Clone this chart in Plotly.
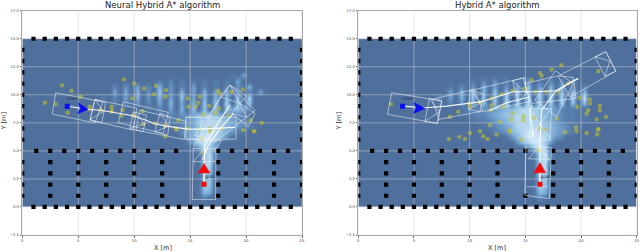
import plotly.graph_objects as go

titles = ["Neural Hybrid A* algorithm", "Hybrid A* algorithm"]
x_ticks = [0, 5, 10, 15, 20, 25]
y_ticks = [-2.5, 0, 2.5, 5, 7.5, 10, 12.5, 15, 17.5]
y_tick_labels = ["−2.5", "0.0", "2.5", "5.0", "7.5", "10.0", "12.5", "15.0", "17.5"]

# obstacle map
wall_top_x = list(range(1, 25))
wall_side_y = [1, 2, 3, 4, 6, 7, 8, 9, 10, 11, 12, 13, 14]
row5_x = [1.25, 2.5, 3.75, 5, 6.25, 7.5, 8.75, 10, 11.25, 12.5, 13.75, 17.5, 18.75, 20, 21.25, 22.5, 23.75]
block_x = [2.5, 5, 7.5, 10, 12.5, 17.5, 20, 22.5]
block_y = [1, 2, 3, 4]
extra_right_x = [15, 15]
extra_right_y = [5, 1]

# likelihood map: (row y, first column index, digits per 0.5 m column)
heat_left = [
    (11.75, 37, "205"),
    (11.25, 24, "203020202020205"),
    (10.75, 16, "30405030604030503020304060"),
    (10.25, 16, "505060407040605060506040305"),
    (9.75, 14, "2030506040605070506060607080"),
    (9.25, 16, "20304030506050607070807070"),
    (8.75, 22, "2030506070707075752"),
    (8.25, 24, "21324356776543321"),
    (7.75, 26, "223457788765432"),
    (7.25, 26, "1234578887654321"),
    (6.75, 27, "1346789875421"),
    (6.25, 28, "2468998641"),
    (5.75, 29, "258985"),
    (5.25, 30, "14875"),
    (4.75, 31, "1782"),
    (4.25, 31, "0781"),
    (3.75, 31, "088"),
    (3.25, 31, "077"),
    (2.75, 31, "066"),
    (2.25, 31, "067"),
    (1.75, 31, "1761"),
    (1.25, 31, "165"),
    (0.75, 31, "02"),
]
heat_right = [
    (11.25, 20, "20304030204020303030"),
    (10.75, 16, "20304060504050705060603030"),
    (10.25, 16, "50607060707080707070707060"),
    (9.75, 14, "3050607060708070808080808090"),
    (9.25, 14, "203040607070808090808080707"),
    (8.75, 18, "12233445667887765432211"),
    (8.25, 18, "12233456778888765432211"),
    (7.75, 20, "1223456788887654322111"),
    (7.25, 22, "123456888887654321"),
    (6.75, 24, "234678998765432"),
    (6.25, 26, "14689998643"),
    (5.75, 28, "4689974"),
    (5.25, 30, "2698"),
    (4.75, 31, "2893"),
    (4.25, 31, "1792"),
    (3.75, 31, "088"),
    (3.25, 31, "088"),
    (2.75, 31, "077"),
    (2.25, 31, "067"),
    (1.75, 31, "1761"),
    (1.25, 31, "165"),
    (0.75, 31, "02"),
]

# expanded nodes
yellow_left_x = [2.03, 3.0, 3.55, 4.41, 5.22, 4.06, 9.09, 10.0, 9.84, 10.88, 11.95, 11.77, 12.85, 12.79, 14.78, 15.88, 16.69, 14.84, 17.52, 19.7, 7.99, 7.99, 8.97, 8.88, 10.76, 6.05, 15.73, 15.52, 17.67, 18.71, 17.58, 16.18, 18.41, 20.41, 21.39, 20.74, 19.75, 14.75, 15.79, 16.78, 17.76, 13.74, 12.75, 11.86, 10.82, 13.95, 17.22, 16.03, 13.8, 16.8, 20.7, 16.18, 12.76, 5.9, 7.0, 8.0, 9.92]
yellow_left_y = [9.29, 9.17, 10.84, 10.36, 9.83, 8.4, 11.38, 11.02, 9.68, 10.57, 10.81, 10.04, 10.42, 9.83, 9.68, 9.83, 9.03, 8.94, 10.36, 10.48, 8.94, 8.64, 8.64, 8.13, 8.55, 8.94, 9.29, 8.93, 10.12, 10.27, 8.78, 8.25, 8.19, 7.74, 7.5, 6.76, 6.85, 7.0, 6.94, 7.0, 7.0, 7.0, 7.24, 7.45, 7.36, 7.74, 8.4, 6.1, 6.9, 6.75, 6.75, 4.82, 6.3, 8.7, 8.63, 8.48, 8.13]
yellow_right_x = [17.36, 16.31, 16.46, 15.56, 18.25, 21.55, 19.84, 20.8, 20.8, 21.69, 21.69, 20.65, 20.5, 19.66, 21.4, 22.23, 21.55, 19.54, 17.8, 15.8, 14.81, 13.85, 13.77, 13.02, 11.97, 12.87, 13.85, 14.9, 15.86, 16.9, 17.95, 18.85, 11.97, 11.88, 12.72, 13.6, 16.31, 14.81, 16.76, 2.93, 8.23, 10.0, 10.92, 8.98, 10.03, 11.82, 8.14, 9.07, 9.58, 10.03, 10.92, 11.22, 11.61, 12.42, 13.62, 14.66, 18.55, 19.6, 20.5, 21.55, 21.45, 16.22]
yellow_right_y = [12.26, 11.96, 11.7, 11.31, 12.65, 12.11, 9.73, 9.58, 9.23, 9.02, 8.63, 8.63, 8.33, 8.93, 7.8, 8.03, 6.93, 7.08, 7.89, 7.98, 8.09, 8.33, 7.8, 8.93, 9.08, 10.06, 10.36, 10.56, 10.27, 10.27, 10.27, 11.01, 9.67, 8.63, 7.59, 6.84, 7.0, 7.74, 6.9, 9.17, 8.04, 9.23, 9.32, 8.49, 8.94, 7.3, 6.07, 6.25, 6.07, 6.6, 6.75, 6.31, 6.07, 6.46, 6.69, 6.01, 6.66, 6.75, 6.6, 6.9, 6.46, 5.06]

# vehicle footprints (closed outlines and inner triangles)
boxes_left = [
    [(2.98, 10.18), (2.68, 8.28), (6.5, 7.5), (7.2, 9.38), (2.98, 10.18)],
    [(6.5, 9.59), (7.45, 9.29), (7.1, 7.5), (6.05, 7.8), (6.5, 9.59), (7.25, 8.5), (6.05, 7.8)],
    [(6.5, 9.59), (6.05, 7.74), (9.9, 6.85), (10.25, 8.8), (6.5, 9.59)],
    [(9.03, 9.38), (8.58, 7.5), (12.6, 6.55), (13.05, 8.43), (9.03, 9.38)],
    [(9.92, 8.48), (11.1, 8.19), (10.8, 6.7), (9.6, 7.0), (9.92, 8.48), (10.95, 7.45), (9.6, 7.0)],
    [(12.3, 8.36), (13.2, 8.04), (13.0, 6.4), (11.85, 6.7), (12.3, 8.36), (13.1, 7.2), (11.85, 6.7)],
    [(10.5, 8.63), (10.16, 6.85), (14.48, 6.02), (14.63, 7.65), (10.5, 8.63)],
    [(14.63, 8.0), (14.63, 6.04), (19.1, 6.04), (19.1, 8.0), (14.63, 8.0)],
    [(14.63, 8.0), (16.0, 8.0), (16.0, 6.04), (14.63, 6.04)],
    [(18.56, 10.87), (20.8, 8.6), (17.2, 5.78), (15.4, 6.4), (18.56, 10.87)],
    [(18.56, 10.87), (20.05, 9.89), (19.46, 9.23), (17.67, 9.83), (18.56, 10.87), (19.46, 9.23)],
    [(19.46, 9.23), (20.8, 8.34), (20.2, 7.15), (18.71, 8.34), (19.46, 9.23), (20.05, 8.0), (18.71, 8.34)],
    [(17.67, 9.83), (15.9, 6.3), (17.0, 5.9)],
    [(15.28, 5.2), (17.31, 5.2), (17.28, 0.66), (15.19, 0.66), (15.28, 5.2)],
    [(15.28, 4.03), (16.2, 5.15), (17.2, 4.05), (15.28, 4.03)],
    [(15.58, 5.96), (15.28, 5.2)],
    [(17.8, 5.96), (17.31, 5.2)],
    [(15.58, 5.96), (17.8, 5.96)],
]
boxes_right = [
    [(3.0, 10.18), (2.61, 8.27), (7.1, 7.44), (7.49, 9.46), (3.0, 10.18)],
    [(6.38, 9.67), (7.49, 9.46), (7.1, 7.44), (5.99, 7.65), (6.38, 9.67), (7.28, 8.48), (5.99, 7.65)],
    [(6.64, 9.59), (7.24, 7.81), (11.2, 8.56), (10.4, 10.5), (6.64, 9.59)],
    [(10.03, 10.41), (11.29, 10.06), (10.93, 8.48), (9.9, 8.7), (10.03, 10.41), (11.0, 9.3), (9.9, 8.7)],
    [(10.4, 10.45), (14.8, 11.5), (15.4, 9.4), (11.2, 8.5)],
    [(13.85, 11.25), (14.96, 11.55), (15.11, 10.12), (14.36, 9.37), (13.85, 11.25), (15.11, 10.12)],
    [(18.0, 11.7), (19.3, 11.55), (19.54, 9.67), (15.56, 9.23), (14.96, 11.01), (18.0, 11.7)],
    [(17.95, 11.67), (22.23, 13.84), (23.13, 12.11), (19.0, 9.8), (17.95, 11.67)],
    [(21.25, 13.39), (22.23, 13.84), (23.13, 12.11), (22.14, 11.67), (21.25, 13.39), (22.6, 13.0), (22.14, 11.67)],
    [(17.71, 12.14), (19.3, 11.01), (17.8, 8.03), (15.86, 9.52), (17.71, 12.14)],
    [(15.41, 8.78), (17.36, 8.78), (17.2, 5.95), (15.35, 5.95), (15.41, 8.78)],
    [(15.35, 5.95), (16.3, 7.4), (17.36, 5.95)],
    [(15.41, 8.78), (16.3, 7.4), (17.36, 8.78)],
    [(15.05, 5.36), (17.36, 5.3), (17.15, 0.74), (14.96, 1.04), (15.05, 5.36)],
    [(15.26, 4.3), (16.22, 5.3), (17.2, 4.23), (15.26, 4.3)],
    [(15.1, 1.8), (17.0, 1.8)],
]

# solution paths
path_left_x = [[4.02, 5.9, 7.0, 8.0, 9.92, 10.88, 11.8, 12.75, 13.8, 14.78, 15.8, 16.77, 17.76, 19.0], [16.25, 16.3, 17.67, 18.56], [16.09, 16.62, 17.81, 18.86]]
path_left_y = [[8.98, 8.7, 8.63, 8.48, 8.13, 7.8, 7.44, 7.23, 7.09, 6.94, 6.94, 7.0, 7.0, 7.1], [2.0, 5.5, 7.74, 9.07], [4.16, 5.5, 7.14, 8.33]]
path_right_x = [[3.98, 5.99, 7.93, 9.97, 10.93, 11.97, 13.91, 15.86, 17.95, 18.85, 19.75], [16.31, 16.31, 16.46, 17.8, 19.75], [11.82, 13.3, 15.4], [15.7, 15.4, 15.6]]
path_right_y = [[8.99, 8.84, 8.99, 9.22, 9.37, 9.67, 10.27, 10.27, 10.36, 11.01, 11.46], [2.0, 5.65, 8.63, 10.42, 11.46], [8.63, 9.3, 9.8], [6.2, 8.6, 9.1]]

start_xy = [(4.02, 8.98), (3.98, 8.99)]
start_arrow = [[(5.0, 9.28), (5.9, 8.7), (4.95, 8.33), (5.2, 8.75)], [(5.0, 9.31), (5.99, 8.78), (4.94, 8.33), (5.2, 8.8)]]
start_label = [(4.47, 9.68), (4.49, 9.61)]
goal_xy = [(16.24, 2.03), (16.31, 2.03)]
goal_arrow = [[(16.24, 3.87), (16.77, 3.03), (15.73, 3.03)], [(16.31, 3.97), (16.82, 3.04), (15.77, 3.04)]]
goal_label = [(16.75, 2.66), (16.78, 2.68)]

panels = [
    (heat_left, yellow_left_x, yellow_left_y, boxes_left, path_left_x, path_left_y, [], []),
    (heat_right, yellow_right_x, yellow_right_y, boxes_right, path_right_x, path_right_y, extra_right_x, extra_right_y),
]
domains = [(22.3 / 640, 302 / 640), (358.3 / 640, 636.7 / 640)]
BLUE_SCALE = [[0, "#4f6f9c"], [0.25, "#5a82b1"], [0.5, "#78a8d3"], [0.75, "#a9d0ec"], [1, "#e6f3fc"]]

fig = go.Figure()


def join(seqs):
    out_x, out_y = [], []
    for xs, ys in seqs:
        out_x += list(xs) + [None]
        out_y += list(ys) + [None]
    return out_x, out_y


for k, (heat, yx, yy, boxes, px, py, ex, ey) in enumerate(panels):
    xa, ya = ("x", "y") if k == 0 else ("x2", "y2")
    cols = [0.25 + 0.5 * i for i in range(50)]
    rows = [0.25 + 0.5 * j for j in range(30)]
    z = [[0] * 50 for _ in rows]
    for y, first, digits in heat:
        row = rows.index(y)
        for i, d in enumerate(digits):
            z[row][first + i] = int(d)
    fig.add_trace(go.Heatmap(x=cols, y=rows, z=z, zmin=0, zmax=10, colorscale=BLUE_SCALE, zsmooth="best",
                             showscale=False, xaxis=xa, yaxis=ya, hoverinfo="skip"))
    gx, gy = join([([t, t], [-2.5, 17.5]) for t in x_ticks] + [([0, 25], [t, t]) for t in y_ticks])
    fig.add_trace(go.Scatter(x=gx, y=gy, mode="lines", line=dict(color="rgba(212,212,212,0.5)", width=1),
                             xaxis=xa, yaxis=ya, hoverinfo="skip"))
    ox = wall_top_x + wall_top_x + [0] * len(wall_side_y) + [25] * len(wall_side_y) + row5_x + ex
    oy = [15] * len(wall_top_x) + [0] * len(wall_top_x) + wall_side_y + wall_side_y + [5] * len(row5_x) + ey
    for bx in block_x:
        for by in block_y:
            ox.append(bx)
            oy.append(by)
    fig.add_trace(go.Scatter(x=ox, y=oy, mode="markers", marker=dict(symbol="square", size=4.2, color="black"),
                             xaxis=xa, yaxis=ya, hoverinfo="skip"))
    fig.add_trace(go.Scatter(x=yx, y=yy, mode="markers", marker=dict(size=4.4, color="rgba(190,190,50,0.6)"),
                             xaxis=xa, yaxis=ya, hoverinfo="skip"))
    bxs, bys = join([([p[0] for p in b], [p[1] for p in b]) for b in boxes])
    fig.add_trace(go.Scatter(x=bxs, y=bys, mode="lines", line=dict(color="rgba(236,240,245,0.8)", width=0.7),
                             xaxis=xa, yaxis=ya, hoverinfo="skip"))
    pxs, pys = join(list(zip(px, py)))
    fig.add_trace(go.Scatter(x=pxs, y=pys, mode="lines", line=dict(color="rgba(255,255,255,0.92)", width=1.1),
                             xaxis=xa, yaxis=ya, hoverinfo="skip"))
    sa = start_arrow[k]
    fig.add_trace(go.Scatter(x=[p[0] for p in sa] + [sa[0][0]], y=[p[1] for p in sa] + [sa[0][1]], mode="lines",
                             fill="toself", fillcolor="#0a0af5", line=dict(color="#0a0af5", width=0.5),
                             xaxis=xa, yaxis=ya, hoverinfo="skip"))
    ga = goal_arrow[k]
    fig.add_trace(go.Scatter(x=[goal_xy[k][0], ga[0][0]], y=[goal_xy[k][1], ga[0][1]], mode="lines",
                             line=dict(color="rgba(255,255,255,0.8)", width=1), xaxis=xa, yaxis=ya, hoverinfo="skip"))
    fig.add_trace(go.Scatter(x=[p[0] for p in ga] + [ga[0][0]], y=[p[1] for p in ga] + [ga[0][1]], mode="lines",
                             fill="toself", fillcolor="#f50a0a", line=dict(color="#f50a0a", width=0.5),
                             xaxis=xa, yaxis=ya, hoverinfo="skip"))
    fig.add_trace(go.Scatter(x=[start_xy[k][0]], y=[start_xy[k][1]], mode="markers",
                             marker=dict(symbol="square", size=5, color="#0a0af5"), xaxis=xa, yaxis=ya, hoverinfo="skip"))
    fig.add_trace(go.Scatter(x=[goal_xy[k][0]], y=[goal_xy[k][1]], mode="markers",
                             marker=dict(symbol="square", size=5, color="#f50a0a"), xaxis=xa, yaxis=ya, hoverinfo="skip"))
    fig.add_trace(go.Scatter(x=[start_label[k][0], goal_label[k][0]], y=[start_label[k][1], goal_label[k][1]],
                             mode="text", text=["start", "goal"], textfont=dict(size=4.5, color="#22304a", family="DejaVu Sans"),
                             xaxis=xa, yaxis=ya, hoverinfo="skip"))

common = dict(showgrid=False, zeroline=False, showline=True, mirror=True, linecolor="#a9a9a9", linewidth=1,
              automargin=False, ticks="outside", ticklen=1.5, tickwidth=0.5, tickcolor="#666666",
              tickfont=dict(size=3.8, color="#444444", family="DejaVu Sans"))
for k in range(2):
    sx = "" if k == 0 else "2"
    fig.layout["xaxis" + sx] = dict(common, domain=list(domains[k]), range=[0, 25], tickvals=x_ticks,
                                    ticktext=[str(t) for t in x_ticks], anchor="y" + sx)
    fig.layout["yaxis" + sx] = dict(common, domain=[17 / 252, 241.3 / 252], range=[-2.5, 17.5], tickvals=y_ticks,
                                    ticktext=y_tick_labels, anchor="x" + sx)

annotations = []
title_font = dict(size=8.5, color="#222222", family="DejaVu Sans")
label_font = dict(size=6.5, color="#333333", family="DejaVu Sans")
x_label_pos = [162.5, 497]
y_label_pos = [3.5, 338.5]
for k, t in enumerate(titles):
    annotations.append(dict(text=t, xref="paper", yref="paper", x=sum(domains[k]) / 2, y=1 - 4.5 / 252,
                            yanchor="middle", xanchor="center", showarrow=False, font=title_font))
    annotations.append(dict(text="X [m]", xref="paper", yref="paper", x=x_label_pos[k] / 640, y=1 - 247.5 / 252,
                            yanchor="middle", xanchor="center", showarrow=False, font=label_font))
    annotations.append(dict(text="Y [m]", xref="paper", yref="paper", x=y_label_pos[k] / 640, y=1 - 122 / 252,
                            yanchor="middle", xanchor="center", showarrow=False, textangle=-90, font=label_font))
fig.update_layout(width=640, height=252, margin=dict(l=0, r=0, t=0, b=0), showlegend=False,
                  paper_bgcolor="white", plot_bgcolor="white", annotations=annotations)
fig.write_html("out.html", config={"displayModeBar": False},
               post_script="document.body.style.margin='0';document.documentElement.style.overflow='hidden';")
